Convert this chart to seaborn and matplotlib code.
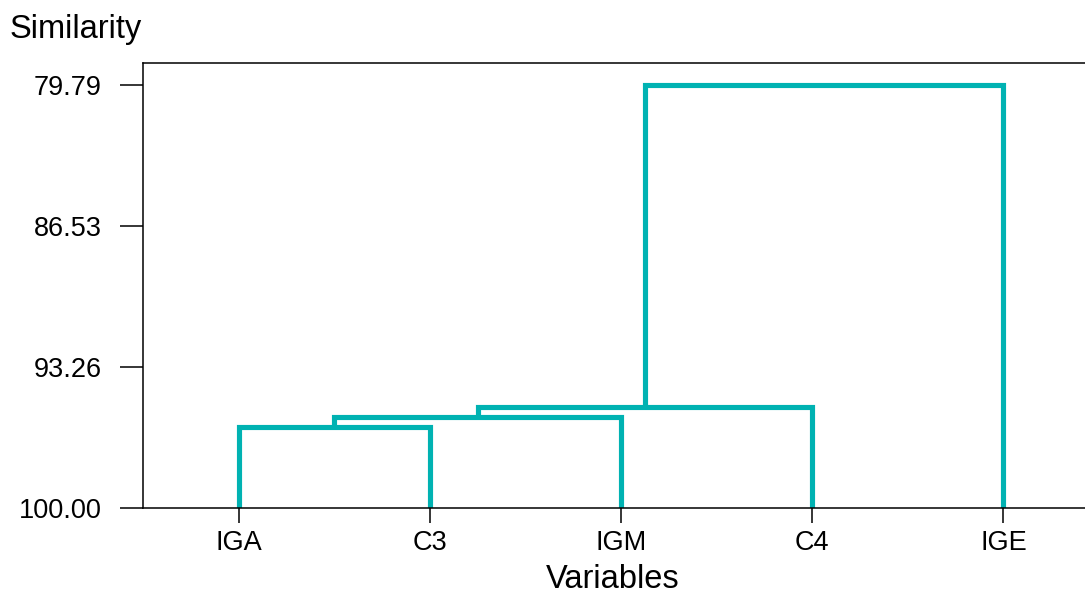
import pandas as pd
import matplotlib
matplotlib.use("Agg")
import matplotlib.pyplot as plt
import seaborn as sns

# --- Data ---
leaves = ["IGA", "C3", "IGM", "C4", "IGE"]
# merges: (left child, right child, similarity level); children >= 5 are earlier clusters
merge_left = [0, 5, 6, 7]
merge_right = [1, 2, 3, 4]
merge_level = [96.14, 95.66, 95.18, 79.79]
y_ticks = [79.79, 86.53, 93.26, 100.00]

# --- Build the U-shaped links of the dendrogram ---
n = len(leaves)
pos = {i: float(i) for i in range(n)}
height = {i: 100.0 for i in range(n)}
rows = []
for k, (a, b, h) in enumerate(zip(merge_left, merge_right, merge_level)):
    xs = [pos[a], pos[a], pos[b], pos[b]]
    ys = [height[a], h, h, height[b]]
    for order, (x, y) in enumerate(zip(xs, ys)):
        rows.append({"link": k, "order": order, "x": x, "y": y})
    pos[n + k] = (pos[a] + pos[b]) / 2
    height[n + k] = h
links = pd.DataFrame(rows)

sns.set_style("white")
plt.rcParams["font.family"] = ["Liberation Sans", "DejaVu Sans"]

fig = plt.figure(figsize=(10.85, 5.96), dpi=100)
ax = fig.add_axes([0.1321, 0.1471, 0.8808, 0.7466])

sns.lineplot(data=links, x="x", y="y", units="link", estimator=None, sort=False,
             color="#00B2B2", linewidth=3.7, ax=ax, legend=False,
             solid_joinstyle="miter", solid_capstyle="butt")

ax.set_xlim(-0.5, n - 0.5)
ax.set_ylim(100, 100 - (100 - min(y_ticks)) * 1.05)
ax.set_xticks(range(n))
ax.set_xticklabels(leaves)
ax.set_yticks(y_ticks)
ax.set_yticklabels([f"{t:.2f}" for t in y_ticks])
ax.set_xlabel("")
ax.set_ylabel("")

for side in ["left", "bottom", "top", "right"]:
    ax.spines[side].set_visible(True)
    ax.spines[side].set_color("black")
    ax.spines[side].set_linewidth(1.1)

ax.tick_params(axis="x", which="major", bottom=True, length=10.8, width=1.1,
               pad=5, labelsize=19.5, colors="black")
ax.tick_params(axis="y", which="major", left=True, length=16.3, width=1.1,
               pad=13.5, labelsize=19.5, colors="black")

fig.text(10 / 1085, 1 - 38 / 596, "Similarity", ha="left", va="baseline",
         fontsize=23.5, color="black")
fig.text(613 / 1085, 1 / 596, "Variables", ha="center", va="bottom",
         fontsize=23.5, color="black")

fig.savefig("out.png", dpi=100)
